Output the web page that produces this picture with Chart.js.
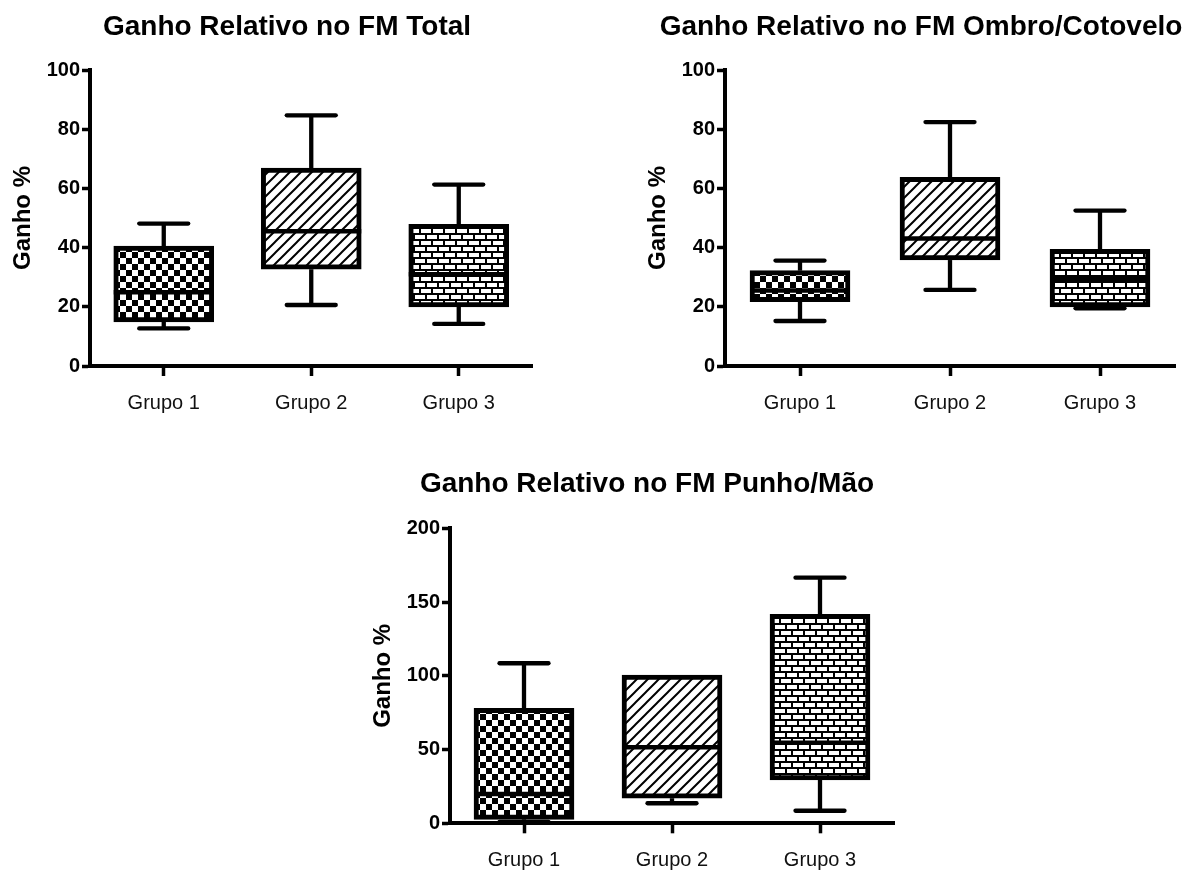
<!DOCTYPE html>
<html>
<head>
<meta charset="utf-8">
<script src="https://cdn.jsdelivr.net/npm/chart.js@4.4.1/dist/chart.umd.min.js"></script>
<style>
  html, body { margin: 0; padding: 0; background: #fff; }
  #page { position: relative; width: 1191px; height: 871px; overflow: hidden; background: #fff; }
  #page canvas { position: absolute; }
  .ttl {
    position: absolute; width: 700px; text-align: center; white-space: nowrap;
    font: bold 28px/34px 'Liberation Sans', Arial, sans-serif; color: #000;
  }
</style>
</head>
<body>
<div id="page">
  <canvas id="cTotal" width="560" height="430" style="left:0px;top:0px"></canvas>
  <canvas id="cShoulder" width="551" height="430" style="left:640px;top:0px"></canvas>
  <canvas id="cWrist" width="560" height="421" style="left:360px;top:450px"></canvas>
  <div class="ttl" style="left:-63px;top:9px">Ganho Relativo no FM Total</div>
  <div class="ttl" style="left:571px;top:9px">Ganho Relativo no FM Ombro/Cotovelo</div>
  <div class="ttl" style="left:297px;top:466px">Ganho Relativo no FM Punho/Mão</div>
</div>
<script>
// Categories
const groupLabels = ['Grupo 1', 'Grupo 2', 'Grupo 3'];
const axisTitle = 'Ganho %';

// Y tick values
const ticksUpper = [0, 20, 40, 60, 80, 100];
const ticksLower = [0, 50, 100, 150, 200];

// Ganho relativo no FM Total: min, Q1, mediana, Q3, max
const totalMin    = [12.7, 20.6, 14.2];
const totalQ1     = [14.9, 32.7, 20.0];
const totalMedian = [24.9, 45.5, 31.0];
const totalQ3     = [40.5, 66.9, 47.9];
const totalMax    = [48.1, 84.7, 61.3];

// Ganho relativo no FM Ombro/Cotovelo
const shoulderMin    = [15.2, 25.7, 19.5];
const shoulderQ1     = [21.7, 35.8, 20.0];
const shoulderMedian = [25.5, 43.1, 29.3];
const shoulderQ3     = [32.2, 63.7, 39.4];
const shoulderMax    = [35.6, 82.4, 52.5];

// Ganho relativo no FM Punho/Mão
const wristMin    = [1.0, 13.6, 8.5];
const wristQ1     = [2.7, 17.0, 29.4];
const wristMedian = [19.9, 51.5, 54.6];
const wristQ3     = [78.0, 100.5, 141.7];
const wristMax    = [108.5, 100.5, 166.5];

const FONT = "'Liberation Sans', Arial, sans-serif";

// Fill patterns: checkerboard, diagonal hatch, brick
function makePattern(kind) {
  const c = document.createElement('canvas');
  const g = c.getContext('2d');
  if (kind === 'checker') {
    c.width = c.height = 12;
    g.fillStyle = '#fff'; g.fillRect(0, 0, 12, 12);
    g.fillStyle = '#000'; g.fillRect(0, 0, 6, 6); g.fillRect(6, 6, 6, 6);
  } else if (kind === 'hatch') {
    c.width = c.height = 11;
    g.fillStyle = '#fff'; g.fillRect(0, 0, 11, 11);
    g.strokeStyle = '#000'; g.lineWidth = 2;
    g.beginPath();
    g.moveTo(0, 11); g.lineTo(11, 0);
    g.moveTo(-2, 2); g.lineTo(2, -2);
    g.moveTo(9, 13); g.lineTo(13, 9);
    g.stroke();
  } else {
    c.width = c.height = 12;
    g.fillStyle = '#000'; g.fillRect(0, 0, 12, 12);
    g.fillStyle = '#fff';
    g.fillRect(1, 1, 10, 4);
    g.fillRect(7, 7, 5, 4);
    g.fillRect(0, 7, 5, 4);
  }
  return g.createPattern(c, 'repeat');
}
const groupFills = [makePattern('checker'), makePattern('hatch'), makePattern('brick')];

// Whiskers under the boxes, medians on top of them
const boxWhiskers = {
  id: 'boxWhiskers',
  beforeDatasetsDraw(chart) {
    const ctx = chart.ctx;
    const ds = chart.data.datasets[0];
    const meta = chart.getDatasetMeta(0);
    const y = chart.scales.y;
    ctx.save();
    ctx.strokeStyle = '#000';
    ctx.lineWidth = 4.3;
    meta.data.forEach((bar, i) => {
      const [lo, hi] = ds.data[i];
      const ends = [[hi, ds.whiskerHigh[i]], [lo, ds.whiskerLow[i]]];
      ends.forEach(([from, to]) => {
        if (Math.abs(to - from) < 0.01) return;
        const y0 = y.getPixelForValue(from), y1 = y.getPixelForValue(to);
        ctx.lineCap = 'butt';
        ctx.beginPath(); ctx.moveTo(bar.x, y0); ctx.lineTo(bar.x, y1); ctx.stroke();
        ctx.lineCap = 'round';
        ctx.beginPath(); ctx.moveTo(bar.x - 24.5, y1); ctx.lineTo(bar.x + 24.5, y1); ctx.stroke();
      });
    });
    ctx.restore();
  },
  afterDatasetsDraw(chart) {
    const ctx = chart.ctx;
    const ds = chart.data.datasets[0];
    const meta = chart.getDatasetMeta(0);
    const y = chart.scales.y;
    ctx.save();
    ctx.strokeStyle = '#000';
    ctx.lineWidth = 4.5;
    ctx.lineCap = 'butt';
    meta.data.forEach((bar, i) => {
      const ym = y.getPixelForValue(ds.median[i]);
      ctx.beginPath();
      ctx.moveTo(bar.x - bar.width / 2, ym);
      ctx.lineTo(bar.x + bar.width / 2, ym);
      ctx.stroke();
    });
    ctx.restore();
  }
};

function boxChart(id, s, ticks, box) {
  return new Chart(document.getElementById(id), {
    type: 'bar',
    data: {
      labels: groupLabels,
      datasets: [{
        data: s.q1.map((v, i) => [v, s.q3[i]]),
        whiskerLow: s.min,
        whiskerHigh: s.max,
        median: s.median,
        backgroundColor: groupFills,
        borderColor: '#000',
        borderWidth: 5,
        borderSkipped: false,
        barThickness: 100
      }]
    },
    options: {
      responsive: false,
      animation: false,
      devicePixelRatio: 1,
      layout: { padding: { left: 0, top: box.top, right: box.right, bottom: 0 } },
      plugins: { legend: { display: false }, tooltip: { enabled: false }, title: { display: false } },
      scales: {
        x: {
          grid: { display: true, drawOnChartArea: false, offset: false, tickLength: 10, tickWidth: 3.5, tickColor: '#000' },
          border: { display: true, color: '#000', width: 4 },
          ticks: { color: '#111', font: { family: FONT, size: 20 }, padding: 15 },
          afterFit: sc => { sc.height = box.xh; }
        },
        y: {
          min: ticks[0],
          max: ticks[ticks.length - 1],
          ticks: { stepSize: ticks[1] - ticks[0], color: '#000', font: { family: FONT, size: 20, weight: 'bold' }, padding: 2 },
          grid: { display: true, drawOnChartArea: false, tickLength: 8, tickWidth: 3.5, tickColor: '#000' },
          border: { display: true, color: '#000', width: 4 },
          title: { display: true, text: axisTitle, color: '#000', font: { family: FONT, size: 24, weight: 'bold' }, padding: { top: box.tpad, bottom: 0 } },
          afterFit: sc => { sc.width = box.yw; }
        }
      }
    },
    plugins: [boxWhiskers]
  });
}

boxChart('cTotal',
  { min: totalMin, q1: totalQ1, median: totalMedian, q3: totalQ3, max: totalMax },
  ticksUpper, { top: 70, right: 27.5, xh: 64, yw: 90, tpad: 9 });

boxChart('cShoulder',
  { min: shoulderMin, q1: shoulderQ1, median: shoulderMedian, q3: shoulderQ3, max: shoulderMax },
  ticksUpper, { top: 70, right: 16, xh: 64, yw: 85, tpad: 4 });

boxChart('cWrist',
  { min: wristMin, q1: wristQ1, median: wristMedian, q3: wristQ3, max: wristMax },
  ticksLower, { top: 78.3, right: 26, xh: 47.7, yw: 90, tpad: 9 });
</script>
</body>
</html>
